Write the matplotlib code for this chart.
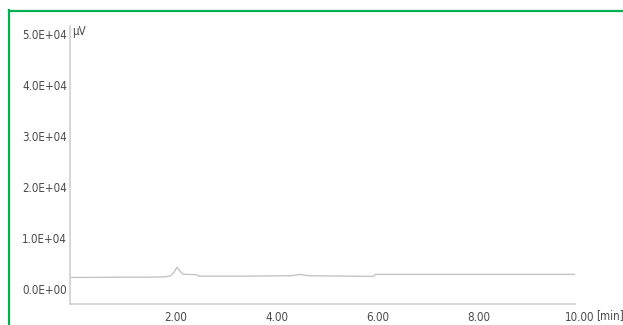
import matplotlib
matplotlib.use("Agg")
import matplotlib.pyplot as plt
import matplotlib.transforms as mtransforms
from matplotlib import font_manager
from matplotlib.lines import Line2D

# prefer a narrow sans face for the labels
_names = {f.name for f in font_manager.fontManager.ttflist}
if "Liberation Sans Narrow" in _names:
    plt.rcParams['font.family'] = ['Liberation Sans Narrow', 'DejaVu Sans']
    label_size = 9.5
else:
    plt.rcParams['font.family'] = ['DejaVu Sans']
    plt.rcParams['font.stretch'] = 'condensed'
    label_size = 8.3

# chromatogram trace: retention time [min] vs detector response [uV]
time_min = [0.0, 0.5, 1.0, 1.5, 1.85, 1.98, 2.06, 2.12, 2.18, 2.24, 2.3, 2.5, 2.55,
            3.0, 3.5, 4.0, 4.4, 4.55, 4.7, 5.0, 5.5, 6.0, 6.05, 6.5, 7.0,
            8.0, 9.0, 10.0]
signal_uv = [2300, 2300, 2350, 2350, 2400, 2550, 3300, 4300, 3500, 2900, 2900, 2850, 2550,
             2550, 2550, 2600, 2650, 2900, 2650, 2600, 2550, 2500, 2900, 2900, 2900,
             2900, 2900, 2900]

y_ticks = [0, 10000, 20000, 30000, 40000, 50000]
y_tick_labels = ["0.0E+00", "1.0E+04", "2.0E+04", "3.0E+04", "4.0E+04", "5.0E+04"]
x_ticks = [2, 4, 6, 8, 10]
x_tick_labels = ["2.00", "4.00", "6.00", "8.00", "10.00"]

W, H = 623, 325
fig = plt.figure(figsize=(W / 100, H / 100), dpi=100)
fig.patch.set_facecolor("white")

left, right, bottom, top = 70, 575, 304, 26
ax = fig.add_axes([left / W, (H - bottom) / H, (right - left) / W, (bottom - top) / H])

ax.plot(time_min, signal_uv, color="#c4c4c4", lw=1.0)

ax.set_xlim(0, 10)
ax.set_ylim(-2900, 51500)

grey = "#cfcfcf"
for side in ("top", "right"):
    ax.spines[side].set_visible(False)
for side in ("left", "bottom"):
    ax.spines[side].set_color(grey)
    ax.spines[side].set_linewidth(1.2)

text_color = "#4a4a4a"
ax.set_yticks(y_ticks)
ax.set_yticklabels(y_tick_labels)
ax.set_xticks(x_ticks)
ax.set_xticklabels(x_tick_labels)
ax.tick_params(axis="both", length=0, labelsize=label_size, colors=text_color)
ax.tick_params(axis="y", pad=2)
ax.tick_params(axis="x", pad=5)

# x tick labels sit slightly right of their tick position
shift = mtransforms.ScaledTranslation(5 / 100, 0, fig.dpi_scale_trans)
for lbl in ax.get_xticklabels():
    lbl.set_transform(lbl.get_transform() + shift)

# units next to the axis ends
fig.text((left + 2) / W, (H - 32) / H, "μV", fontsize=label_size, color=text_color,
         ha="left", va="center")
fig.text(596 / W, (H - 316) / H, "[min]", fontsize=label_size, color=text_color,
         ha="left", va="center")

# green frame along top and left edges
green = "#00b050"
fig.add_artist(Line2D([8.5 / W, 8.5 / W], [0, (H - 10) / H], color=green, lw=1.6,
                      transform=fig.transFigure, solid_capstyle="projecting"))
fig.add_artist(Line2D([8.5 / W, 1.0], [(H - 10.5) / H, (H - 10.5) / H], color=green, lw=1.6,
                      transform=fig.transFigure, solid_capstyle="projecting"))

fig.savefig("out.png", dpi=100, facecolor="white")
